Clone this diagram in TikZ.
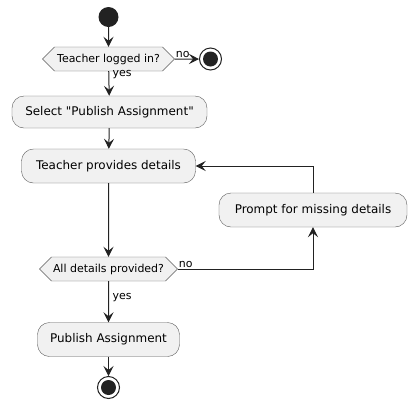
\documentclass[tikz,border=0pt]{standalone}
\usepackage{fontspec}
\setmainfont{DejaVu Sans}
\usepackage{xcolor}
\usetikzlibrary{arrows.meta,shapes.symbols}
\definecolor{boxfill}{HTML}{F1F1F1}
\definecolor{boxline}{HTML}{5A5A5A}
\definecolor{ink}{HTML}{222222}

\begin{document}
\begin{tikzpicture}[x=1bp,y=-1bp]
\tikzstyle{every node}+=[inner sep=0pt, font=\fontsize{12}{14}\selectfont]
\tikzstyle{action}=[draw=boxline, fill=boxfill, rounded corners=12bp, minimum height=34bp]
\tikzstyle{choice}=[draw=boxline, fill=boxfill, shape=signal, signal to=east and west, signal pointer angle=90, minimum height=24bp, font=\fontsize{11}{13}\selectfont]
\tikzstyle{flow}=[draw=ink, line width=1bp, -{Stealth[length=10bp,width=10bp,inset=4bp]}]
\tikzstyle{guard}=[font=\fontsize{11}{13}\selectfont]
\useasboundingbox[fill=white] (0,0) rectangle (416,404);
\node[circle, fill=ink, minimum size=20bp] (start) at (108.5,17) {};
\node[choice, minimum width=132bp] (login) at (108.5,59) {Teacher logged in?};
\node[circle, draw=ink, fill=white, line width=1bp, minimum size=22bp] (stopA) at (210.5,59) {};
\fill[ink] (stopA) circle (7.5bp);
\node[action, minimum width=195bp, minimum height=32bp] (select) at (109.5,112) {Select \textquotedbl Publish Assignment\textquotedbl};
\node[action, minimum width=174bp] (provide) at (108.5,166) {Teacher provides details};
\node[action, minimum width=188bp] (prompt) at (313,210) {Prompt for missing details};
\node[choice, minimum width=138bp] (check) at (108.5,269) {All details provided?};
\node[action, minimum width=142bp] (publish) at (108.5,339.5) {Publish Assignment};
\node[circle, draw=ink, fill=white, line width=1bp, minimum size=22bp] (stopB) at (108.5,387.5) {};
\fill[ink] (stopB) circle (7.5bp);
\draw[flow] (start) -- (login);
\draw[flow] (login) -- (stopA);
\draw (login.east) node[guard, anchor=south west, xshift=1bp, yshift=1bp] {no};
\draw[flow] (login) -- (select);
\draw (login.south) node[guard, anchor=north west, xshift=4bp, yshift=1bp] {yes};
\draw[flow] (select) -- (provide);
\draw[flow] (provide) -- (check);
\draw[flow] (check.east) -| (prompt.south);
\draw (check.east) node[guard, anchor=south west, xshift=1bp, yshift=1bp] {no};
\draw[flow] (prompt.north) |- (provide.east);
\draw[flow] (check) -- (publish);
\draw (check.south) node[guard, anchor=north west, xshift=4bp, yshift=-12bp] {yes};
\draw[flow] (publish) -- (stopB);
\end{tikzpicture}
\end{document}
